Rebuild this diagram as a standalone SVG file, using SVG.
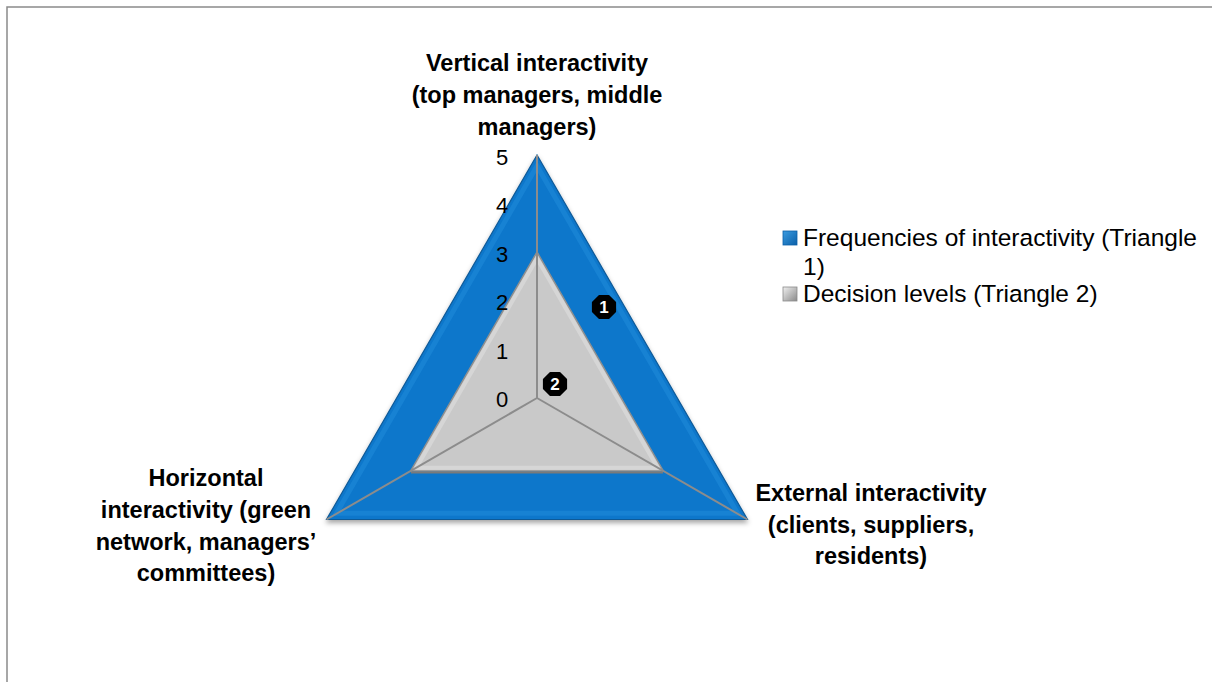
<svg xmlns="http://www.w3.org/2000/svg" width="1212" height="682" viewBox="0 0 1212 682">
<style>
.lab{font-family:"Liberation Sans",Arial,sans-serif;font-weight:bold;font-size:23.5px;fill:#000;text-anchor:middle}
.tick{font-family:"Liberation Sans",Arial,sans-serif;font-size:22px;fill:#000;text-anchor:middle}
.leg{font-family:"Liberation Sans",Arial,sans-serif;font-size:24.5px;fill:#000}
.axis{stroke:#8c8c8c;stroke-width:2;fill:none}
.mk{fill:#000;stroke:#000;stroke-width:2;stroke-linejoin:round}
.mkt{font-family:"Liberation Sans",Arial,sans-serif;font-weight:bold;font-size:17px;fill:#fff;text-anchor:middle}
</style>
<defs>
<filter id="sh" x="-10%" y="-10%" width="120%" height="125%">
<feDropShadow dx="0" dy="3" stdDeviation="2.5" flood-color="#000" flood-opacity="0.35"/>
</filter>
<linearGradient id="lb" x1="0" y1="0" x2="1" y2="1">
<stop offset="0" stop-color="#3a9be0"/><stop offset="1" stop-color="#0b5fa8"/>
</linearGradient>
<linearGradient id="lg" x1="0" y1="0" x2="1" y2="1">
<stop offset="0" stop-color="#f0f0f0"/><stop offset="1" stop-color="#8a8a8a"/>
</linearGradient>
<polygon id="oct" points="4.6,-11.1 11.1,-4.6 11.1,4.6 4.6,11.1 -4.6,11.1 -11.1,4.6 -11.1,-4.6 -4.6,-11.1"/>
</defs>
<rect x="7" y="7" width="1220" height="700" fill="#fff" stroke="#8a8a8a" stroke-width="1.5"/>
<g id="triangle1">
<polygon points="537,155 326.5,519.5 747.5,519.5" fill="#0a77cb" stroke="#0d5a98" stroke-width="1.2" filter="url(#sh)"/>
<polygon points="537,166 336.5,513.2 737.5,513.2" fill="none" stroke="#1a84d4" stroke-width="5" opacity="0.8"/>
</g>
<g id="triangle2">
<polygon points="537,252 410.7,471 663.3,471" fill="#c9c9c9" stroke="#8f8f8f" stroke-width="1.5"/>
<polygon points="537,258.5 416.4,467.8 657.6,467.8" fill="none" stroke="#d6d6d6" stroke-width="4"/>
<line x1="411" y1="472.5" x2="663" y2="472.5" stroke="#7a7a7a" stroke-width="2"/>
</g>
<g id="connectors">
<line class="axis" x1="537" y1="398" x2="537" y2="155"/>
<line class="axis" x1="537" y1="398" x2="326.5" y2="519.5"/>
<line class="axis" x1="537" y1="398" x2="747.5" y2="519.5"/>
</g>
<g id="ticks">
<text class="tick" x="502" y="165">5</text>
<text class="tick" x="502" y="213">4</text>
<text class="tick" x="502" y="262">3</text>
<text class="tick" x="502" y="310">2</text>
<text class="tick" x="502" y="359">1</text>
<text class="tick" x="502" y="407">0</text>
</g>
<g id="marker1">
<use href="#oct" class="mk" x="604" y="307"/>
<text class="mkt" x="604" y="313">1</text>
</g>
<g id="marker2">
<use href="#oct" class="mk" x="555" y="384"/>
<text class="mkt" x="555" y="390">2</text>
</g>
<g id="label-vertical">
<text class="lab" x="537" y="71">Vertical interactivity</text>
<text class="lab" x="537" y="103">(top managers, middle</text>
<text class="lab" x="537" y="135">managers)</text>
</g>
<g id="label-horizontal">
<text class="lab" x="206" y="486">Horizontal</text>
<text class="lab" x="206" y="518">interactivity (green</text>
<text class="lab" x="206" y="550">network, managers’</text>
<text class="lab" x="206" y="581">committees)</text>
</g>
<g id="label-external">
<text class="lab" x="871" y="501">External interactivity</text>
<text class="lab" x="871" y="533">(clients, suppliers,</text>
<text class="lab" x="871" y="564">residents)</text>
</g>
<g id="legend">
<rect x="783" y="231" width="14" height="14" fill="url(#lb)" stroke="#0b5fa8" stroke-width="0.8"/>
<text class="leg" x="803" y="246">Frequencies of interactivity (Triangle</text>
<text class="leg" x="803" y="275">1)</text>
<rect x="783" y="287" width="14" height="14" fill="url(#lg)" stroke="#8a8a8a" stroke-width="0.8"/>
<text class="leg" x="803" y="302">Decision levels (Triangle 2)</text>
</g>
</svg>
